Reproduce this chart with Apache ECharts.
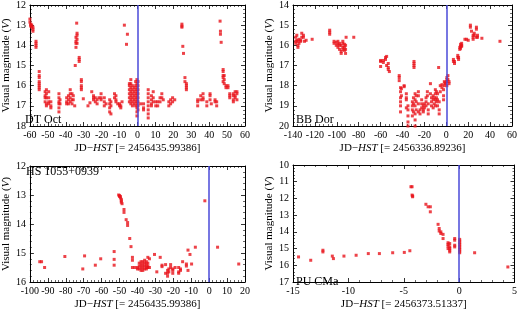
<!DOCTYPE html>
<html><head><meta charset="utf-8">
<script src="https://cdn.jsdelivr.net/npm/echarts@6/dist/echarts.min.js"></script>
<style>html,body{margin:0;padding:0;background:#fff}#c{width:520px;height:311px}</style>
</head><body><div id="c"></div>
<script>
// Panel titles and axis label text
const panelNames = ['DT Oct', 'BB Dor', 'HS 1055+0939', 'PU CMa'];
const refEpochs = ['2456435.99386', '2456336.89236', '2456435.99386', '2456373.51337'];
// Axis ranges [xmin, xmax, xstep], [ymin(top), ymax(bottom), ystep]
const xRanges = [[-60, 60, 10], [-140, 60, 20], [-100, 20, 10], [-15, 5, 5]];
const yRanges = [[12, 18, 1], [14, 20, 1], [12, 16, 1], [10, 17, 1]];

// Observations: [JD offset, [visual magnitudes]]
const dtOct = [
[-60,[12.7,12.85]],[-59.5,[12.95,13.0,13.05]],[-59,[13.0,13.1]],[-58.3,[13.1,13.2,13.3]],
[-56.6,[13.8,13.9,14.0,14.1]],[-54.8,[15.3,15.5,15.6,15.8,15.9,16.0,16.1,16.2]],
[-51.5,[16.3,16.5,16.6,16.8]],[-50.8,[16.2,16.4,16.6,16.9,17.0]],[-49.5,[16.3,16.6,16.8,16.9]],[-48.3,[16.8,17.0,17.1]],
[-43.8,[16.4,16.6,16.8,16.9,17.1,17.3]],[-43.2,[16.7,16.9]],[-39.5,[16.6,16.8,16.9]],[-38.5,[16.5,16.7,16.9]],
[-37.5,[16.2,16.4,16.6,16.8]],[-36.5,[16.4,16.7,16.9]],[-35.8,[16.5,16.7]],[-35,[17.0]],[-34.7,[15.0]],
[-34.3,[13.6,13.8,13.9,14.1]],[-33.9,[12.9]],[-33.7,[13.4,13.5,13.7,13.9]],[-32.5,[14.6,14.7,14.8]],
[-31.3,[15.7,15.8,16.0,16.1,16.2]],[-30.2,[16.65]],[-27.6,[17.0]],[-26.5,[16.85]],[-25.5,[16.3]],
[-24.5,[16.5,16.6,16.7]],[-23.5,[16.6,16.8]],[-22.5,[16.7,16.9]],[-21.5,[16.6]],[-20.3,[16.4,16.6,16.7]],
[-18.5,[16.6,16.8,17.0]],[-17.5,[16.9]],[-15.5,[16.7,16.9,17.1,17.3]],[-14.8,[16.8,17.0,17.4]],
[-12.8,[16.4,16.6]],[-12,[16.5,16.7,16.8]],[-11,[16.9]],[-10,[16.9,17.0]],[-9.3,[17.0,17.1]],[-8.6,[16.8]],
[-7.3,[13.0]],[-5.6,[13.45]],[-6.1,[13.95]],
[-4.5,[15.9,16.0,16.2,16.4,16.6,16.8]],[-3.7,[15.7,15.9,16.1,16.3,16.5,16.7,16.9]],
[-2.8,[16.0,16.2,16.4,16.6,16.8,17.0]],[-1.9,[16.1,16.3,16.5,16.7,16.9]],
[-1.0,[15.8,16.0,16.2,16.4,16.6,16.8,17.0]],[-0.3,[15.7,15.9,16.1,16.3,16.5,16.7,16.9,17.1,17.3,17.5]],
[0.3,[15.8,16.0,16.2,16.4,16.6,16.8,17.0,17.2]],[1.8,[16.9]],[3.4,[16.9,17.1,17.2]],
[6,[16.2,16.4,16.6,16.8,17.0,17.2,17.4,17.6]],[7.8,[16.5,16.7,16.9,17.0]],[8.8,[16.3,16.6,16.8]],
[10.2,[16.8,17.0]],[11.3,[16.8,17.0]],[12.6,[16.6,16.8]],[13.6,[16.4,16.6]],[14.4,[16.7]],
[17.5,[16.8,17.0]],[18.5,[16.7,16.9]],[19.6,[16.6,16.8]],[20.8,[16.7]],
[24.8,[12.95,13.05,13.1]],[25.3,[14.05]],[25.7,[14.4]],[26.5,[15.6,15.8]],[27.3,[15.9,16.0,16.1,16.2]],
[33.6,[16.7,16.8,17.0]],[35.3,[16.5,16.7]],[36.6,[16.4,16.6,16.7]],[38.7,[16.8,17.0]],[40.5,[16.4,16.5,16.7]],
[41.2,[16.9]],[43.3,[16.7,16.8]],[44.2,[16.8,17.0]],[46.1,[12.8]],[46.3,[13.3,13.45]],[46.7,[13.85]],
[47.8,[15.2,15.3,15.5,15.6,15.8]],[48.4,[15.5,15.7,15.9]],[49.4,[16.0,16.1]],[50.5,[16.0,16.1]],
[51.5,[16.4,16.5,16.6]],[53.5,[16.4,16.5,16.7,16.8]],[54.5,[16.3,16.5,16.6]],[55.5,[16.3,16.4,16.7]]
];
const bbDor = [
[-137.5,[15.6,15.8,15.9]],[-136.5,[15.5,15.75]],[-135.5,[15.8,16.0,16.1]],[-134.5,[15.7,15.9]],
[-133,[15.75,15.8]],[-132,[15.4,15.6]],[-130.5,[15.5,15.6]],[-129.5,[15.8]],[-128,[15.75]],[-122.5,[15.7]],
[-106.5,[15.25,15.35,15.45]],[-102.5,[15.8,15.9]],[-100.5,[15.85,16.0]],[-99,[15.8,15.95,16.1]],
[-97.5,[15.9,16.0,16.2]],[-96,[16.0,16.3,16.4]],[-94.5,[15.8,15.9,16.1,16.2]],[-93,[15.95,16.1,16.25]],
[-92,[16.0,16.2,16.4]],[-91.5,[15.6]],[-84.5,[15.6]],
[-60,[16.75,16.8,17.05]],[-57.5,[16.75,16.85]],[-55.5,[16.6,16.7]],[-54.5,[16.55,17.0]],[-53,[16.9,17.1,17.2]],[-52,[17.3]],
[-43,[17.5,17.6,17.75]],[-41.8,[18.1,18.3,18.6,18.8,19.0,19.3]],[-41,[18.15,18.5]],[-38.5,[18.0,18.05]],
[-36.5,[18.4,18.6,18.7,19.1]],[-35,[19.0,19.2,19.5,19.8,20.0]],[-31,[18.8,19.0,19.2,19.5]],[-30,[18.6,18.9,19.3]],
[-29.5,[16.8,16.9,17.0,17.1]],[-28.5,[18.4,18.7,19.0,19.4,19.7,20.0]],[-27.5,[18.5,18.8,19.2]],
[-25.5,[18.3,18.5,18.9,19.3]],[-24,[19.2,19.4]],[-22.5,[18.7,18.9,19.1]],[-21,[19.0,19.2,19.3]],[-20,[18.9,19.1]],
[-18.5,[18.6,18.8,19.0]],[-17.3,[18.3,18.5]],[-16.5,[18.9,19.2,19.4]],[-14.5,[17.9,18.4]],[-13.5,[18.6,18.8,19.0]],
[-12,[18.5,18.7,19.1]],[-11,[18.6,18.9]],[-10,[18.2,18.4,18.7,19.0]],[-9,[18.3,18.6,18.8]],[-8,[18.4,18.7,19.0]],
[-7,[17.1]],[-6.5,[18.8,19.2,19.4]],[-5.5,[18.0,18.3]],[-4,[17.95,18.1]],[-2.5,[18.2,18.5,18.7]],
[-1.8,[17.8,18.0]],[-1,[17.85,17.9]],[0.5,[17.6,17.7,17.8,18.0]],[1.5,[17.5,17.7]],[2.5,[17.8,17.9]],
[6.5,[16.7,16.8]],[7.5,[16.8,16.9]],[10.5,[16.5,16.6]],[11.2,[16.6,16.7]],[12.3,[16.1,16.2]],
[13,[15.95,16.05,16.15]],[14,[15.9,16.0,16.05]],[17,[15.7]],[18.5,[15.7]],[20,[15.75]],
[22,[15.0,15.1]],[23,[15.3]],[24.5,[15.5,15.6,15.7]],[25.5,[15.4,15.5]],[27.5,[15.1,15.2,15.6]],
[28.5,[15.5,15.6]],[32.5,[15.65]],[49,[15.8]]
];
const hs1055 = [
[-94.5,[15.3]],[-93.5,[15.3]],[-91.8,[15.5]],[-80.5,[15.12]],[-70.5,[15.55]],[-69.5,[15.1]],[-63.5,[15.42]],[-60.5,[15.2]],
[-53,[14.95,15.22,15.42]],[-50.5,[13.0]],[-50,[13.02,13.05]],[-49.5,[13.05,13.1]],[-49,[13.15,13.2,13.25]],[-48.6,[13.3]],
[-47.5,[13.5,13.6]],[-46.3,[13.85]],[-45.5,[13.95,14.05]],[-44.3,[14.5]],[-43.6,[14.78]],
[-42.8,[15.15,15.25,15.5]],[-41.5,[15.5]],[-40,[15.5,15.55]],[-39,[15.35,15.45,15.55]],[-38,[15.3,15.4,15.5,15.6]],
[-37,[15.3,15.4,15.5,15.6]],[-36,[15.25,15.35,15.45,15.55]],[-35,[15.3,15.4,15.5,15.55]],[-34.2,[15.15,15.35,15.45,15.5]],[-33.3,[15.2,15.5]],
[-30.5,[15.05]],[-29.2,[15.65]],[-27.3,[15.15]],[-26.3,[15.42,15.47]],[-24.3,[15.4,15.7]],[-23.2,[15.6,15.7,15.8]],[-22.5,[15.55,15.65]],
[-21.5,[15.4,15.5]],[-20.3,[15.55,15.6,15.7]],[-19,[15.5]],[-17,[15.5,15.65,15.7]],[-16,[15.55,15.6]],[-14.8,[15.3]],
[-12.7,[15.38,15.45]],[-11.8,[14.9,15.6]],[-10.7,[15.05]],[-9.8,[15.38]],[-7.7,[14.8]],[-2.4,[13.2]],[4.7,[14.8]],[16.5,[15.38]]
];
const puCMa = [
[-14.5,[15.5]],[-13.4,[15.7]],[-12.3,[15.1,15.2]],[-11.45,[15.45]],[-11.35,[15.6]],[-10.4,[15.45]],[-9.3,[15.4]],
[-8.2,[15.3]],[-7.2,[15.3]],[-6.0,[15.25]],[-4.95,[15.23]],[-4.45,[15.13]],
[-4.35,[11.3]],[-4.25,[11.3,11.8]],[-4.2,[11.85,11.9]],[-3.0,[12.35]],[-2.8,[12.5]],[-2.6,[12.5,12.8]],
[-1.9,[13.55]],[-1.8,[13.8,13.95]],[-1.65,[14.0,14.1]],[-1.45,[14.15,14.4]],
[-1.0,[14.65,14.75,14.85,15.0]],[-0.85,[14.7,14.9,15.0,15.1,15.2]],[-0.4,[14.4,14.5,14.8,14.9]],
[0.05,[14.45,14.55,14.65,14.75,14.85,14.95,15.05,15.15,15.25]],[1.4,[15.25]],[4.4,[16.1]]
];
const panelData = [dtOct, bbDor, hs1055, puCMa];

function pts(groups){ const o=[]; groups.forEach(g=>g[1].forEach(y=>o.push([g[0],y]))); return o; }

const FONT = '"Liberation Serif", "DejaVu Serif", serif';
const grids = [
  {left:21, top:4, width:224, height:122},
  {left:293, top:3, width:224, height:123},
  {left:21, top:166, width:224, height:120},
  {left:293, top:165, width:224, height:124}
];
const xAxes = [], yAxes = [], series = [];
const tickStyle = {show:true, inside:true, length:4, lineStyle:{color:'#000', width:0.8}};
const minorStyle = {show:true, splitNumber:5, length:2, lineStyle:{color:'#000', width:0.6}};
panelData.forEach((d, i) => {
  const xr = xRanges[i], yr = yRanges[i];
  const common = {gridIndex:i, type:'value', splitLine:{show:false},
    axisLine:{show:true, onZero:false, lineStyle:{color:'#000', width:1}},
    axisTick:tickStyle, minorTick:minorStyle};
  xAxes.push(Object.assign({}, common, {position:'bottom', min:xr[0], max:xr[1], interval:xr[2],
    axisLabel:{color:'#000', fontFamily:FONT, fontSize:10, margin:4},
    name:'JD\u2212{i|HST} [= ' + refEpochs[i] + ']', nameLocation:'middle', nameGap:17,
    nameTextStyle:{color:'#000', fontFamily:FONT, fontSize:11,
      rich:{i:{fontStyle:'italic', fontFamily:FONT, fontSize:11, color:'#000'}}}}));
  xAxes.push(Object.assign({}, common, {position:'top', min:xr[0], max:xr[1], interval:xr[2], axisLabel:{show:false}}));
  yAxes.push(Object.assign({}, common, {position:'left', inverse:true, min:yr[0], max:yr[1], interval:yr[2],
    axisLabel:{color:'#000', fontFamily:FONT, fontSize:10, margin:4},
    name:'Visual magnitude ({i|V})', nameLocation:'middle', nameGap:13, nameRotate:90,
    nameTextStyle:{color:'#000', fontFamily:FONT, fontSize:11,
      rich:{i:{fontStyle:'italic', fontFamily:FONT, fontSize:11, color:'#000'}}}}));
  yAxes.push(Object.assign({}, common, {position:'right', inverse:true, min:yr[0], max:yr[1], interval:yr[2], axisLabel:{show:false}}));
  series.push({type:'scatter', xAxisIndex:2*i, yAxisIndex:2*i, data:pts(d), symbol:'rect', symbolSize:3,
    itemStyle:{color:'#e8141c'}, silent:true, animation:false,
    markLine:{silent:true, symbol:'none', label:{show:false}, animation:false,
      lineStyle:{color:'#4a4ad8', width:1.5, type:'solid'}, data:[{xAxis:0}]}});
});

const labelPos = [[25,120],[296,120],[26,172],[296,282]];
const graphic = panelNames.map((n, i) => ({type:'text', x:labelPos[i][0], y:labelPos[i][1], z:100,
  style:{text:n, fill:'#000', font:'12px ' + FONT, textAlign:'left', textVerticalAlign:'middle', verticalAlign:'middle'}}));

const chart = echarts.init(document.getElementById('c'), null, {renderer:'canvas'});
chart.setOption({animation:false, grid:grids, xAxis:xAxes, yAxis:yAxes, series:series, graphic:graphic});
</script></body></html>
